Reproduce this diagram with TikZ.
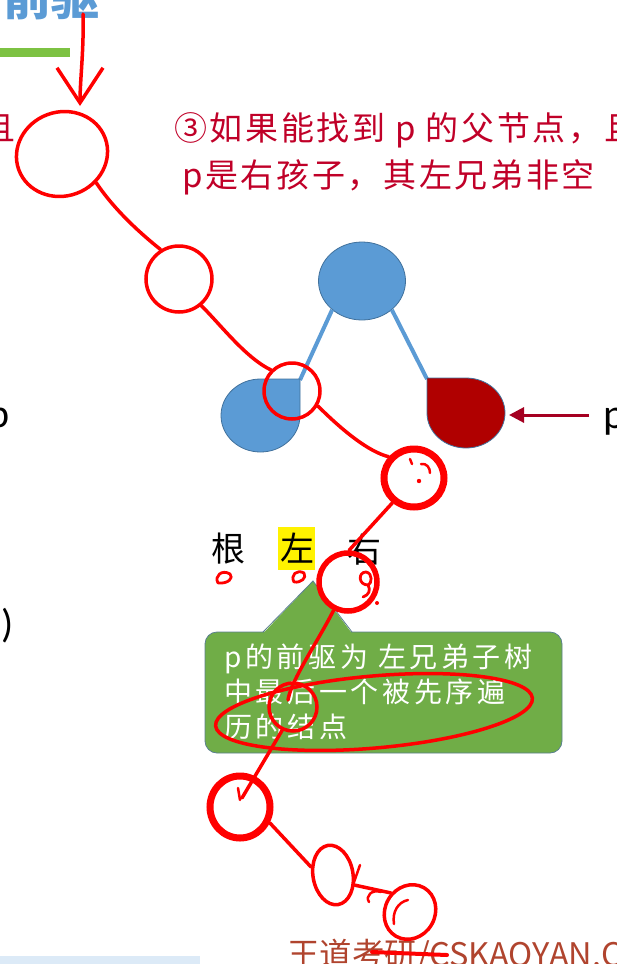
\documentclass[tikz,border=0pt]{standalone}
\usepackage{fontspec}
\usetikzlibrary{shapes.geometric, arrows.meta}
\newfontfamily\cjk{Noto Sans CJK SC}
\newfontfamily\cjkhead[LetterSpace=8]{Noto Sans CJK SC}
\newfontfamily\cjkcall[LetterSpace=13]{Noto Sans CJK SC}
\newfontfamily\carl{Carlito}
\definecolor{handred}{HTML}{FF0000}
\definecolor{headred}{HTML}{C00028}
\definecolor{nodeblue}{HTML}{5B9BD5}
\definecolor{nodeedge}{HTML}{41719C}
\definecolor{pred}{HTML}{B00000}
\definecolor{arrred}{HTML}{A50021}
\definecolor{callgreen}{HTML}{70AD47}
\definecolor{calledge}{HTML}{5A7F8F}
\definecolor{titleblue}{HTML}{5B9BD5}
\definecolor{lingreen}{HTML}{7DC243}
\definecolor{wmark}{HTML}{B0442E}
\definecolor{paleblue}{HTML}{DCEAF7}
\tikzset{
  headtxt/.style={text=headred, inner sep=0, font=\cjkhead\fontsize{33}{33}\selectfont},
  calltxt/.style={text=white, inner sep=0, anchor=base west, font=\cjkcall\fontsize{28}{28}\selectfont},
  lab/.style={text=black, inner sep=0, font=\cjk\fontsize{34}{34}\selectfont},
  treeedge/.style={draw=nodeblue, line width=4pt},
  treenode/.style={fill=nodeblue, draw=nodeedge, line width=0.8pt},
  hand/.style={draw=handred, line width=3.5pt, line cap=round, line join=round},
  ring/.style={ellipse, draw=handred, line width=3.5pt, inner sep=0},
  thickring/.style={ring, line width=7pt},
  parrow/.style={draw=arrred, line width=3pt, -{Triangle[length=15pt,width=15pt]}},
  ghost/.style={inner sep=0, draw=none},
}
\begin{document}
\begin{tikzpicture}[x=1pt,y=-1pt]
\useasboundingbox (0,0) rectangle (617,964);
\clip (0,0) rectangle (617,964);

% slide pieces
\fill[lingreen] (0,48) rectangle (70,57);
\fill[paleblue] (0,956) rectangle (200,964);
\node[anchor=base west, inner sep=0, text=titleblue, font=\cjk\bfseries\fontsize{48}{48}\selectfont] (ttl) at (3,15) {前驱};

% red heading
\node[headtxt, anchor=base east] (qie) at (16,140) {且};
\node[headtxt, anchor=base west] (h1) at (174,140) {③如果能找到 p 的父节点，且};
\node[headtxt, anchor=base west] (h2) at (182,187) {p是右孩子，其左兄弟非空};

% black fragments at left edge
\node[anchor=base east, inner sep=0, font=\carl\fontsize{40}{40}\selectfont] (pl) at (10,427) {p};
\node[anchor=base east, inner sep=0, font=\carl\fontsize{40}{40}\selectfont] (paren) at (14,637) {)};

% tree
\node[treenode, ellipse, minimum width=87pt, minimum height=78pt, inner sep=0] (root) at (362,281) {};
\coordinate (lcc) at (300,380);
\coordinate (rcc) at (427,379);
\draw[treeedge] (root.224) -- (lcc);
\draw[treeedge] (root.316) -- (rcc);
\path[treenode] (260.5,379) -- (300,379) -- (300,415.5)
  arc[start angle=0, end angle=-270, x radius=39.5pt, y radius=36.5pt] -- cycle;
\path[treenode, fill=pred] (466,378)
  arc[start angle=90, end angle=-180, x radius=39pt, y radius=35pt] -- (427,378) -- cycle;
\node[ghost, minimum width=79pt, minimum height=73pt] (lc) at (260.5,415.5) {};
\node[ghost, minimum width=78pt, minimum height=70pt] (rc) at (466,413) {};

% p pointer
\node[anchor=base west, inner sep=0, font=\carl\fontsize{42}{42}\selectfont] (pr) at (603,428) {p};
\coordinate (arrS) at (589,415);
\coordinate (rcE) at (509,415);
\draw[parrow] (arrS) -- (rcE);

% labels
\fill[yellow] (278,527) rectangle (315,570);
\node[lab] (gen) at (228.5,549) {根};
\node[lab] (zuo) at (297,548) {左};
\node[lab] (you) at (364,550) {右};

% callout
\draw[fill=callgreen, draw=calledge, line width=0.8pt, rounded corners=12pt]
  (263,632) -- (562,632) -- (562,753) -- (205,753) -- (205,632) -- cycle;
\fill[callgreen] (263,633.5) -- (313,581) -- (352,633.5) -- cycle;
\draw[draw=calledge, line width=0.8pt] (263,632) -- (313,581) -- (352,632);
\node[ghost, minimum width=357pt, minimum height=121pt] (callout) at (383.5,692.5) {};
\node[calltxt] (c1) at (224,667) {p的前驱为 左兄弟子树};
\node[calltxt] (c2) at (224,702) {中最后一个被先序遍};
\node[calltxt] (c3) at (224,737) {历的结点};

% watermark
\node[anchor=base west, inner sep=0, text=wmark, font=\cjk\fontsize{32.5}{32.5}\selectfont] (wm) at (287,966) {王道考研/CSKAOYAN.C};

% ---- hand-drawn red annotations ----
\node[ring, minimum width=92pt, minimum height=84pt, rotate=20] (r1) at (62,154) {};
\node[ring, minimum width=66pt, minimum height=66pt] (r2) at (179,279) {};
\node[ring, minimum width=56pt, minimum height=56pt] (r3) at (292,391) {};
\node[thickring, minimum width=60pt, minimum height=58pt] (r4) at (414,478) {};
\node[thickring, line width=5.5pt, minimum width=58pt, minimum height=58pt] (r5) at (348,582) {};
\node[ring, minimum width=48pt, minimum height=48pt] (r6) at (293,707) {};
\node[ring, minimum width=318pt, minimum height=72pt, rotate=5] (r7) at (374,712) {};
\node[thickring, minimum width=60pt, minimum height=62pt] (r8) at (240,807) {};
\node[ring, minimum width=40pt, minimum height=60pt, rotate=10] (r9) at (333,875) {};
\node[ring, minimum width=50pt, minimum height=56pt, rotate=-30] (r10) at (410,912) {};

\coordinate (top) at (83,14);
\coordinate (r1top) at (80,106);
\draw[hand, -{Straight Barb[length=35pt,width=46pt]}] (top) .. controls (84,50) and (80,80) .. (r1top);

\draw[hand] (r1.-60) .. controls +(20,30) and +(-15,-12) .. (r2.122);
\draw[hand] (r2.-50) .. controls +(20,20) and +(-25,-12) .. (r3.135);
\draw[hand] (r3.-30) .. controls +(25,25) and +(-20,-5) .. (r4.140);
\draw[hand] (r4.229) -- (r5.88);
\coordinate (d6) at (288,700);
\draw[hand] (r5.243) .. controls +(-15,30) and +(3,-20) .. (d6);
\coordinate (r8i) at (242,798);
\draw[hand] (r6.245) -- (r8i);
\draw[hand] (r8.-28) -- (r9.150);
\draw[hand] (r9.-35) -- (r10.165);

% small marks
\draw[hand, line width=2.8pt] (218,583) .. controls (214,576) and (222,569) .. (230,574) .. controls (234,578) and (228,584) .. (218,583);
\draw[hand, line width=2.8pt] (294,582) .. controls (290,575) and (297,569) .. (304,573) .. controls (307,578) and (301,583) .. (294,582);
\draw[hand, line width=2.8pt] (368,585) .. controls (358,585) and (358,572) .. (366,572) .. controls (373,573) and (372,584) .. (368,585) .. controls (371,590) and (369,595) .. (363,597);
\fill[handred] (377,603) circle[radius=2pt];
\draw[hand, line width=2.5pt] (410,459) -- (412,464);
\draw[hand, line width=2.5pt] (421,464) .. controls (427,463) and (430,468) .. (430,473);
\fill[handred] (419,481) circle[radius=2.2pt];
\draw[hand, line width=2.5pt] (238,788) -- (240,800);
\draw[hand, line width=2.5pt] (360,865) -- (353,885);
\draw[hand, line width=2.5pt] (381,892) .. controls (372,889) and (365,896) .. (369,902);
\draw[hand, line width=2.5pt] (408,900) .. controls (398,902) and (392,912) .. (394,924);
\draw[hand, line width=4pt] (372,952) -- (447,955);
\end{tikzpicture}
\end{document}
